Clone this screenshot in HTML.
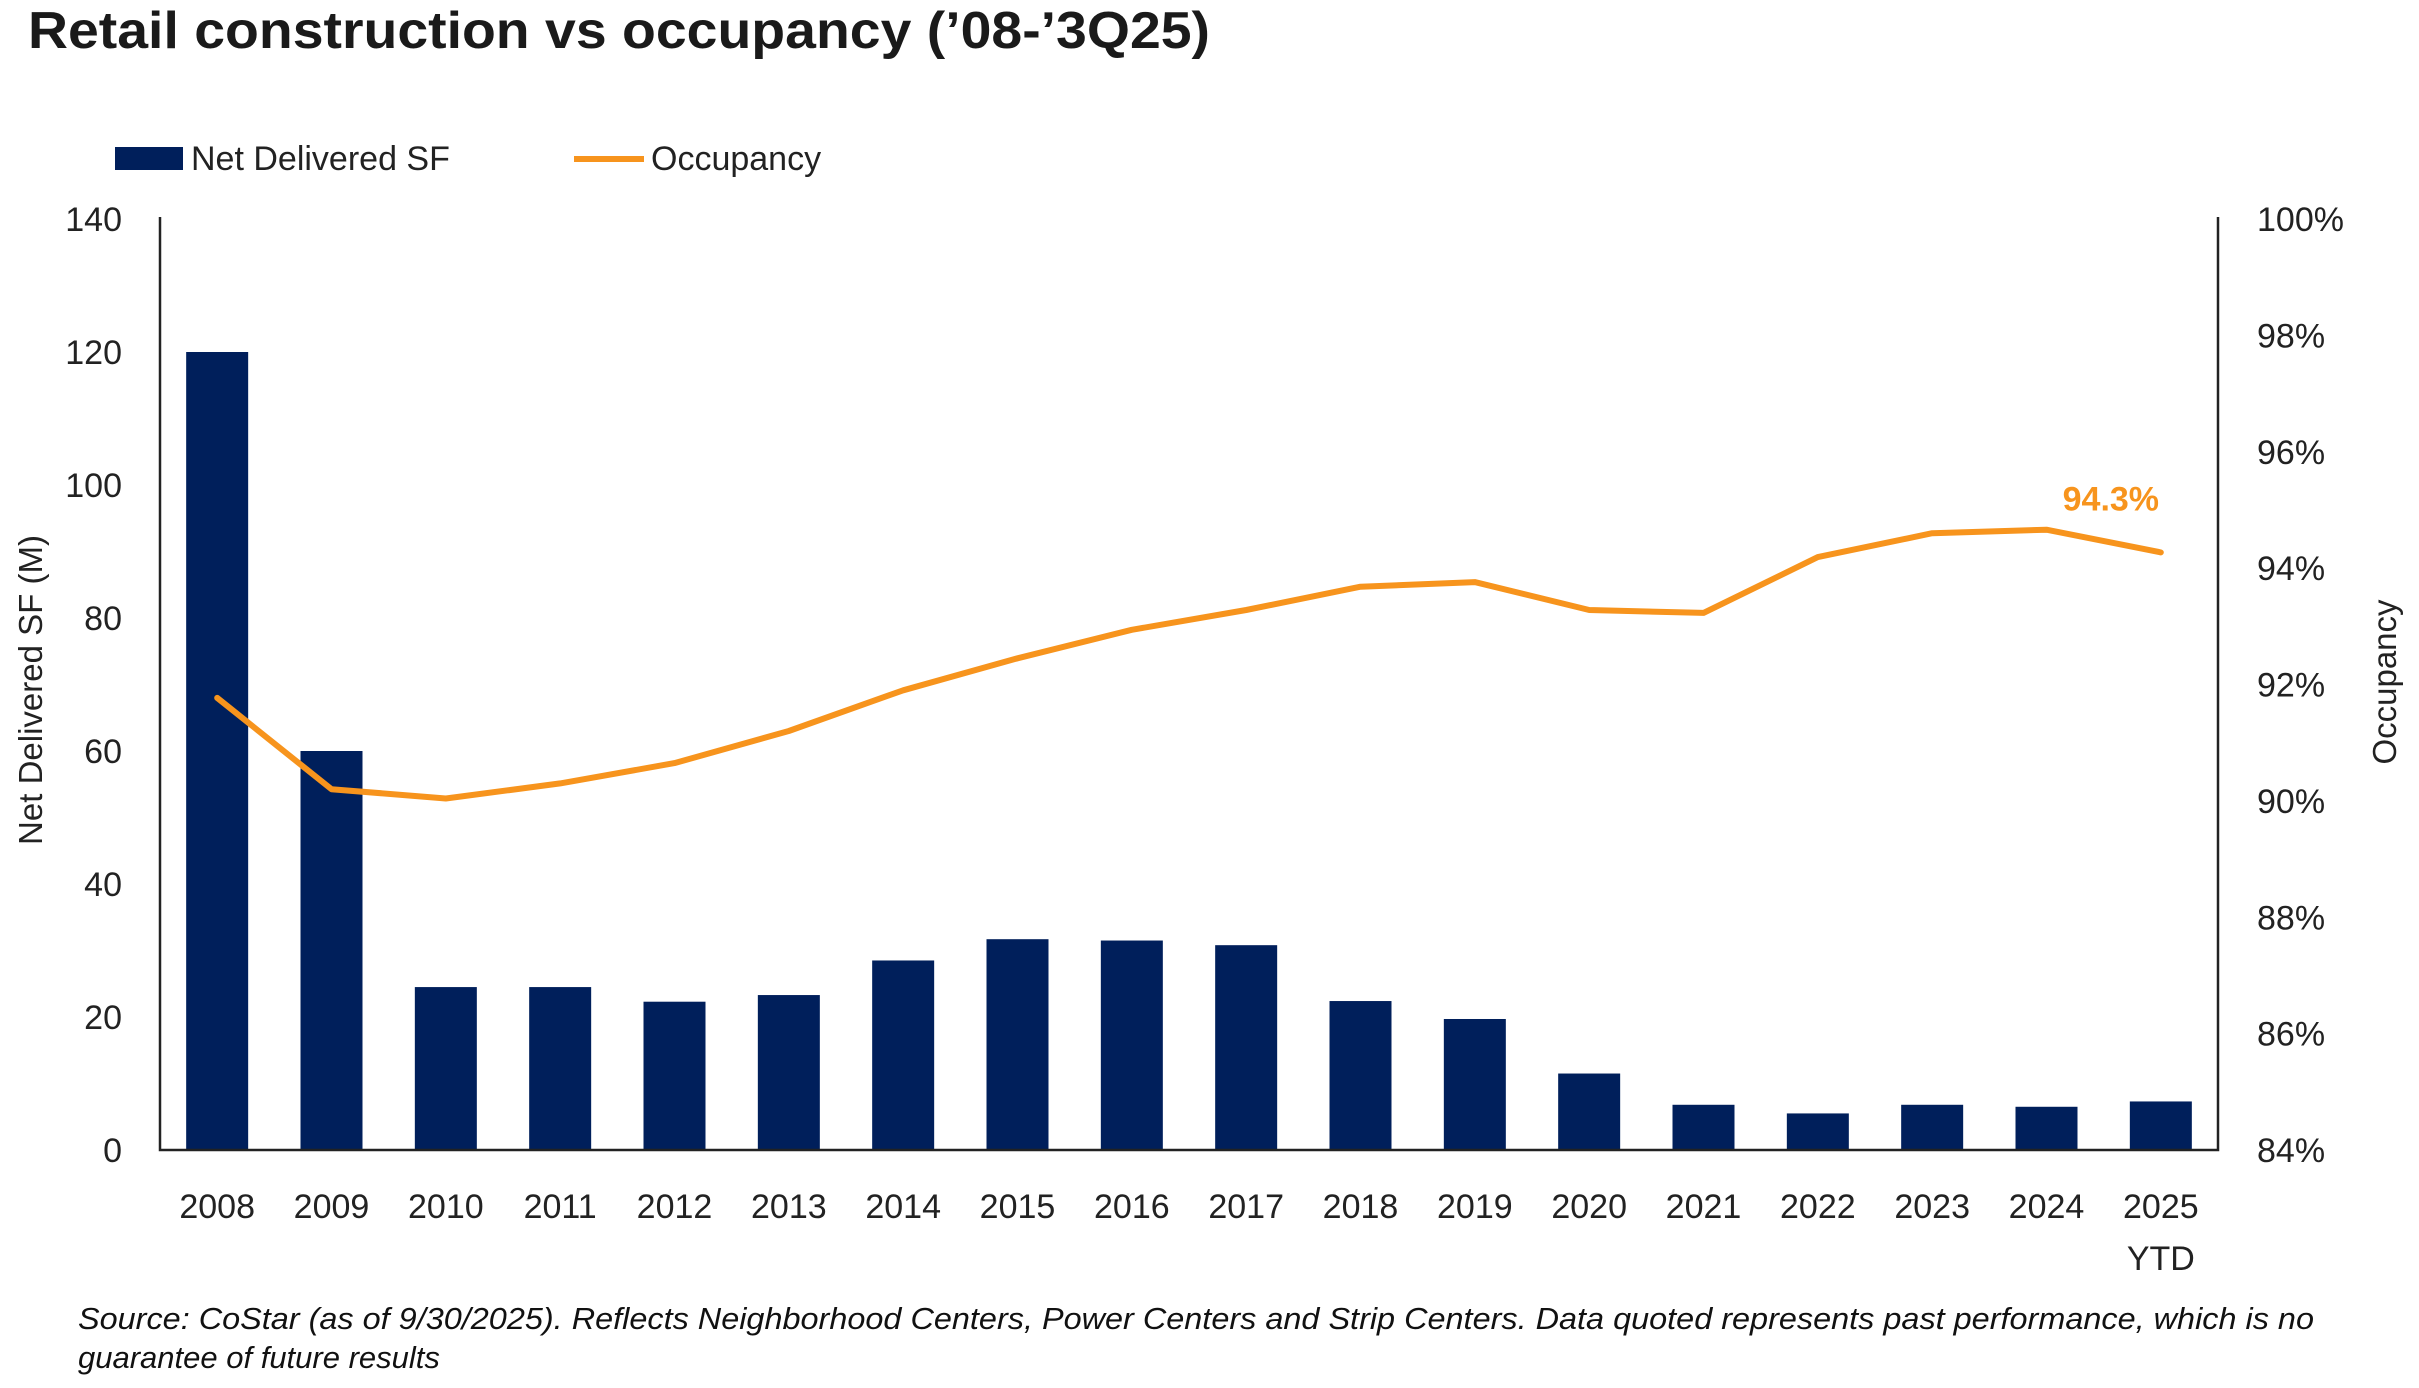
<!DOCTYPE html>
<html><head><meta charset="utf-8"><style>
html,body{margin:0;padding:0;background:#fff;width:2419px;height:1388px;overflow:hidden}
svg{display:block;font-family:"Liberation Sans",sans-serif}
</style></head><body>
<svg id="chart" width="2419" height="1388" viewBox="0 0 2419 1388" xmlns="http://www.w3.org/2000/svg">
<text x="28" y="48" font-size="52" font-weight="bold" fill="#1a1a1a" textLength="1182" lengthAdjust="spacingAndGlyphs">Retail construction vs occupancy (’08-’3Q25)</text>
<g>
<rect x="115" y="147" width="68" height="23" fill="#001f5b"/>
<text x="191" y="170" font-size="34" fill="#222">Net Delivered SF</text>
<line x1="574" y1="159" x2="644" y2="159" stroke="#f7941d" stroke-width="6"/>
<text x="651" y="170" font-size="34" fill="#222">Occupancy</text>
</g>
<g id="plot"></g>
<text transform="translate(42,690) rotate(-90)" text-anchor="middle" font-size="33" fill="#222">Net Delivered SF (M)</text>
<text transform="translate(2396,682) rotate(-90)" text-anchor="middle" font-size="33" fill="#222">Occupancy</text>
<text font-size="31" font-style="italic" fill="#111">
<tspan x="78" y="1329" textLength="2236" lengthAdjust="spacingAndGlyphs">Source: CoStar (as of 9/30/2025). Reflects Neighborhood Centers, Power Centers and Strip Centers. Data quoted represents past performance, which is no</tspan>
<tspan x="78" y="1368">guarantee of future results</tspan>
</text>
</svg>
<script>
const categories = ["2008","2009","2010","2011","2012","2013","2014","2015","2016","2017","2018","2019","2020","2021","2022","2023","2024","2025"];
const deliveredSF = [120,60,24.5,24.5,22.3,23.3,28.5,31.7,31.5,30.8,22.4,19.7,11.5,6.8,5.5,6.8,6.5,7.3];
const occupancy = [91.77,90.2,90.04,90.3,90.65,91.2,91.9,92.45,92.94,93.28,93.68,93.76,93.28,93.23,94.19,94.6,94.66,94.27];
const leftTicks = [0,20,40,60,80,100,120,140];
const rightTicks = [84,86,88,90,92,94,96,98,100];
const lastLabel = "94.3%";

const NS = "http://www.w3.org/2000/svg";
const plot = document.getElementById('plot');
const X0 = 160, X1 = 2218, Y0 = 1150, Y1 = 219;
const step = (X1 - X0) / categories.length;
const xC = i => X0 + step * (i + 0.5);
const yL = v => Y0 - (v - 0) / 140 * (Y0 - Y1);
const yR = v => Y0 - (v - 84) / 16 * (Y0 - Y1);
function mk(tag, attrs){const e=document.createElementNS(NS,tag);for(const k in attrs)e.setAttribute(k,attrs[k]);plot.appendChild(e);return e;}

leftTicks.forEach(t=>{
  const e = mk('text',{x:122,y:yL(t)+12,'text-anchor':'end','font-size':34,fill:'#222'});
  e.textContent = t;
  
  
});
rightTicks.forEach(t=>{
  const e = mk('text',{x:2257,y:yR(t)+12,'font-size':34,fill:'#222'});
  e.textContent = t + '%';
  
  
});
deliveredSF.forEach((v,i)=>{
  const bw = 62;
  const r = mk('rect',{x:xC(i)-bw/2,y:yL(v),width:bw,height:Y0-yL(v),fill:'#001f5b'});
  
  
});
categories.forEach((c,i)=>{
  const e = mk('text',{x:xC(i),y:1218,'text-anchor':'middle','font-size':34,fill:'#222'});
  e.textContent = c;
  
  
});
const ytd = mk('text',{x:xC(categories.length-1),y:1270,'text-anchor':'middle','font-size':34,fill:'#222'});
ytd.textContent = 'YTD';



const ax = mk('path',{d:`M${X0} ${Y1-2} V${Y0} H${X1} V${Y1-2}`,fill:'none',stroke:'#222','stroke-width':2.5});



const pts = occupancy.map((v,i)=>`${xC(i).toFixed(1)},${yR(v).toFixed(1)}`).join(' ');
const line = mk('polyline',{points:pts,fill:'none',stroke:'#f7941d','stroke-width':6,'stroke-linejoin':'round','stroke-linecap':'round'});



const n = occupancy.length - 1;
const lbl = mk('text',{x:xC(n)-50,y:yR(occupancy[n])-42,'text-anchor':'middle','font-size':34,'font-weight':'bold',fill:'#f7941d'});
lbl.textContent = lastLabel;


</script>
</body></html>
